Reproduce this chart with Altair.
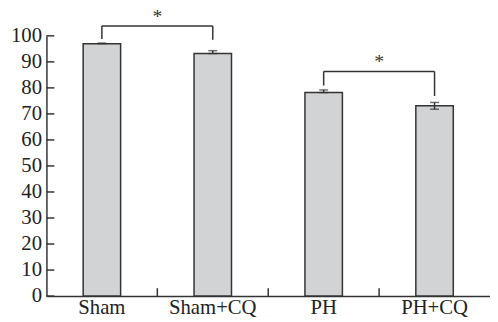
import altair as alt
import pandas as pd

groups = ["Sham", "Sham+CQ", "PH", "PH+CQ"]
means = [97.0, 93.2, 78.2, 73.1]
err_up = [0.2, 1.1, 1.0, 1.3]
err_low = [0.0, 0.0, 0.0, 1.3]
y_ticks = [0, 10, 20, 30, 40, 50, 60, 70, 80, 90, 100]

# significance brackets
br_left = ["Sham", "PH"]
br_right = ["Sham+CQ", "PH+CQ"]
br_level = [103.8, 86.3]
br_left_end = [98.8, 80.9]
br_right_end = [98.5, 76.9]
br_star_y = [104.6, 87.1]
br_label = ["*", "*"]

W, H = 450, 264
FONT = "Liberation Serif"
INK = "#333333"

df = pd.DataFrame({"group": groups, "mean": means,
                   "hi": [m + e for m, e in zip(means, err_up)],
                   "lo": [m - e for m, e in zip(means, err_low)]})
br = pd.DataFrame({"a": br_left, "b": br_right, "lvl": br_level,
                   "ya": br_left_end, "yb": br_right_end,
                   "sy": br_star_y, "lab": br_label})
ticks_df = pd.DataFrame({"t": y_ticks})
xt = pd.DataFrame({"group": groups[:-1]})

xscale = alt.Scale(domain=groups, paddingInner=0, paddingOuter=0)
yscale = alt.Scale(domain=[0, 100], nice=False)

x_axis = alt.Axis(title=None, labelAngle=0, ticks=False,
                  labelFont=FONT, labelFontSize=21, labelColor="#222",
                  labelPadding=1, domainColor=INK, domainWidth=1.5)
y_axis = alt.Axis(title=None, values=y_ticks, ticks=False, grid=False,
                  labelOverlap=False, labelFlush=False,
                  labelFont=FONT, labelFontSize=21, labelColor="#222",
                  labelPadding=5, domainColor=INK, domainWidth=1.5)


def X(field, **kw):
    return alt.X(field, scale=xscale, sort=groups, axis=x_axis, **kw)


def Y(field):
    return alt.Y(field, scale=yscale, axis=y_axis)


bars = alt.Chart(df).mark_bar(size=38, color="#d2d3d5", stroke=INK,
                              strokeWidth=1.5).encode(x=X("group:N"), y=Y("mean:Q"))

err = alt.Chart(df).mark_errorbar(ticks=alt.MarkConfig(size=9), color=INK,
                                  thickness=1.5).encode(
    x=X("group:N"), y=Y("lo:Q"), y2="hi:Q")

ytick_marks = alt.Chart(ticks_df).mark_rule(color=INK, strokeWidth=1.5).encode(
    y=Y("t:Q"), x=alt.value(0), x2=alt.value(8))

xtick_marks = alt.Chart(xt).mark_rule(color=INK, strokeWidth=1.5,
                                      xOffset=W / 8).encode(
    x=X("group:N"), y=alt.value(H), y2=alt.value(H - 8))

br_h = alt.Chart(br).mark_rule(color=INK, strokeWidth=1.5).encode(
    x=X("a:N"), x2="b:N", y=Y("lvl:Q"))
br_l = alt.Chart(br).mark_rule(color=INK, strokeWidth=1.5).encode(
    x=X("a:N"), y=Y("lvl:Q"), y2="ya:Q")
br_r = alt.Chart(br).mark_rule(color=INK, strokeWidth=1.5).encode(
    x=X("b:N"), y=Y("lvl:Q"), y2="yb:Q")
stars = alt.Chart(br).mark_text(font=FONT, fontSize=20, color=INK,
                                baseline="alphabetic", dy=-1).encode(
    x=X("a:N", bandPosition=1), y=Y("sy:Q"), text="lab:N")

chart = alt.layer(bars, err, ytick_marks, xtick_marks, br_h, br_l, br_r, stars).properties(
    width=W, height=H,
    autosize=alt.AutoSizeParams(type="none"),
    padding={"left": 39, "top": 26, "right": 0, "bottom": 20},
).configure_view(stroke=None).configure_axis(grid=False)

chart.save("out.html", embed_options={"renderer": "svg", "actions": False})
